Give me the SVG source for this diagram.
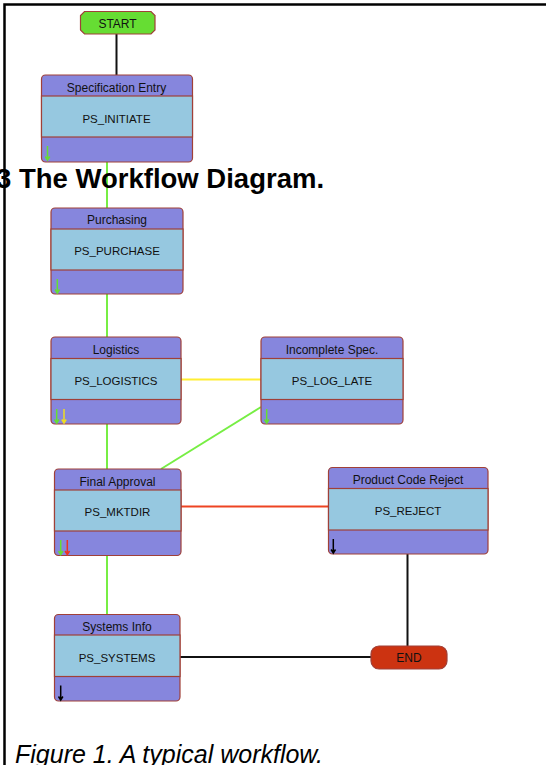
<svg xmlns="http://www.w3.org/2000/svg" width="546" height="765" viewBox="0 0 546 765">
<style>
.hd{fill:#8686dd;stroke:#a04038;stroke-width:1.2}
.bd{fill:#96c8e0;stroke:#a04038;stroke-width:1.2}
.ht{font-family:"Liberation Sans",Arial,sans-serif;font-size:12px;fill:#111;text-anchor:middle}
.bt{font-family:"Liberation Sans",Arial,sans-serif;font-size:11.5px;fill:#111;text-anchor:middle}
.g{stroke:#77ee44;stroke-width:2;fill:none}
.y{stroke:#ffee33;stroke-width:2;fill:none}
.r{stroke:#ee4422;stroke-width:2;fill:none}
.k{stroke:#111;stroke-width:2;fill:none}
.ag{stroke:#66dd33;stroke-width:1.5;fill:none}
.ay{stroke:#eedd22;stroke-width:1.5;fill:none}
.ar{stroke:#ee3322;stroke-width:1.5;fill:none}
.ak{stroke:#000;stroke-width:1.5;fill:none}
</style>
<rect width="546" height="765" fill="#fff"/>
<path d="M4.5,765 V4.5 H546" fill="none" stroke="#000" stroke-width="2.5"/>

<g id="connectors">
<line class="k" x1="116.5" y1="34" x2="116.5" y2="75"/>
<line class="g" x1="107" y1="162" x2="107" y2="208"/>
<line class="g" x1="107" y1="294" x2="107" y2="337"/>
<line class="y" x1="181" y1="379.5" x2="261" y2="379.5"/>
<line class="g" x1="107" y1="424" x2="107" y2="469"/>
<line class="g" x1="261" y1="407" x2="161" y2="469"/>
<line class="r" x1="181" y1="506.5" x2="328" y2="506.5"/>
<line class="g" x1="107" y1="556" x2="107" y2="614"/>
<line class="k" x1="407.5" y1="554" x2="407.5" y2="646"/>
<line class="k" x1="180" y1="657" x2="371" y2="657"/>
</g>

<text x="-4" y="188" font-family="Liberation Sans,Arial,sans-serif" font-size="27.5" font-weight="bold" fill="#000">3 The Workflow Diagram.</text>

<g id="start">
<path d="M84.5,11.5 H151 L155,15.5 V30 L151,34 H84.5 L80.5,30 V15.5 Z" fill="#66dd33" stroke="#a04038" stroke-width="1.2"/>
<text class="ht" x="117.5" y="27.5">START</text>
</g>

<g id="spec-entry">
<rect class="hd" x="41.5" y="75" width="151" height="87" rx="4"/>
<rect class="bd" x="41.5" y="96" width="151" height="41"/>
<text class="ht" x="116.5" y="91.5">Specification Entry</text>
<text class="bt" x="116.5" y="122.5">PS_INITIATE</text>
<path class="ag" d="M47.5,146 V160 M45.3,156.5 L47.5,160 L49.7,156.5"/>
</g>

<g id="purchasing">
<rect class="hd" x="51" y="208" width="132" height="86" rx="4"/>
<rect class="bd" x="51" y="229" width="132" height="41"/>
<text class="ht" x="117" y="224">Purchasing</text>
<text class="bt" x="117" y="255">PS_PURCHASE</text>
<path class="ag" d="M57.3,279 V293 M55.1,289.5 L57.3,293 L59.5,289.5"/>
</g>

<g id="logistics">
<rect class="hd" x="51" y="337" width="130" height="87" rx="4"/>
<rect class="bd" x="51" y="358.5" width="130" height="41"/>
<text class="ht" x="116" y="353.5">Logistics</text>
<text class="bt" x="116" y="385">PS_LOGISTICS</text>
<path class="ag" d="M56.7,409 V423 M54.5,419.5 L56.7,423 L58.9,419.5"/>
<path class="ay" d="M64,409 V423 M61.8,419.5 L64,423 L66.2,419.5"/>
</g>

<g id="incomplete-spec">
<rect class="hd" x="261" y="337" width="142" height="87" rx="4"/>
<rect class="bd" x="261" y="358.5" width="142" height="41"/>
<text class="ht" x="332" y="353.5">Incomplete Spec.</text>
<text class="bt" x="332" y="385">PS_LOG_LATE</text>
<path class="ag" d="M266.7,409 V423 M264.5,419.5 L266.7,423 L268.9,419.5"/>
</g>

<g id="final-approval">
<rect class="hd" x="54.5" y="469" width="126.5" height="86.5" rx="4"/>
<rect class="bd" x="54.5" y="490" width="126.5" height="41"/>
<text class="ht" x="117.5" y="485.5">Final Approval</text>
<text class="bt" x="117.5" y="516">PS_MKTDIR</text>
<path class="ag" d="M60.7,540 V554.5 M58.5,551 L60.7,554.5 L62.9,551"/>
<path class="ar" d="M67.3,540 V554.5 M65.1,551 L67.3,554.5 L69.5,551"/>
</g>

<g id="product-code-reject">
<rect class="hd" x="328.5" y="467.5" width="159.5" height="86.5" rx="4"/>
<rect class="bd" x="328.5" y="488.5" width="159.5" height="41.5"/>
<text class="ht" x="408" y="484">Product Code Reject</text>
<text class="bt" x="408" y="515">PS_REJECT</text>
<path class="ak" d="M333.3,539 V553 M331.1,549.5 L333.3,553 L335.5,549.5"/>
</g>

<g id="systems-info">
<rect class="hd" x="54.5" y="614.5" width="125.5" height="86.5" rx="4"/>
<rect class="bd" x="54.5" y="635" width="125.5" height="41.5"/>
<text class="ht" x="117" y="631">Systems Info</text>
<text class="bt" x="117" y="662">PS_SYSTEMS</text>
<path class="ak" d="M60.7,685.5 V700 M58.5,696.5 L60.7,700 L62.9,696.5"/>
</g>

<g id="end">
<rect x="371" y="646" width="76" height="23" rx="8" fill="#cc3311" stroke="#a04038" stroke-width="1.2"/>
<text class="ht" x="409" y="662">END</text>
</g>

<text x="15" y="763" font-family="Liberation Sans,Arial,sans-serif" font-size="25" font-style="italic" fill="#000">Figure 1. A typical workflow.</text>
</svg>
